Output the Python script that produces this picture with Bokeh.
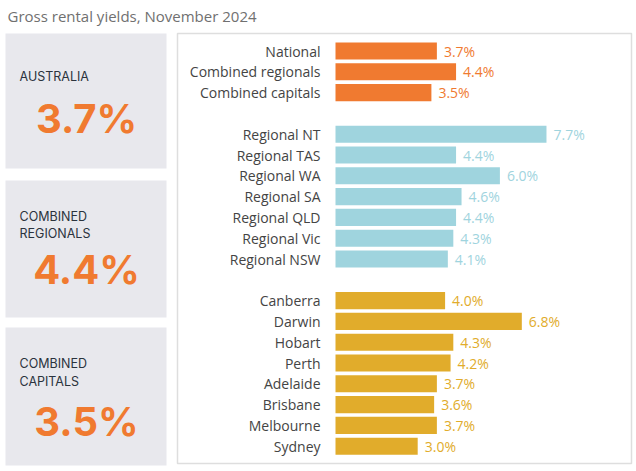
from bokeh.plotting import figure
from bokeh.models import Range1d
from bokeh.core.properties import value
from bokeh.embed import file_html
from bokeh.resources import INLINE

# ---- data ----
title_text = "Gross rental yields, November 2024"
summary_labels = ["National", "Combined regionals", "Combined capitals"]
summary_values = [3.7, 4.4, 3.5]
regional_labels = ["Regional NT", "Regional TAS", "Regional WA", "Regional SA",
                   "Regional QLD", "Regional Vic", "Regional NSW"]
regional_values = [7.7, 4.4, 6.0, 4.6, 4.4, 4.3, 4.1]
capital_labels = ["Canberra", "Darwin", "Hobart", "Perth", "Adelaide",
                  "Brisbane", "Melbourne", "Sydney"]
capital_values = [4.0, 6.8, 4.3, 4.2, 3.7, 3.6, 3.7, 3.0]
card_titles = [["AUSTRALIA"], ["COMBINED", "REGIONALS"], ["COMBINED", "CAPITALS"]]

# ---- styles ----
ORANGE = "#f07a30"
BLUE = "#9fd4de"
GOLD = "#e1ac2b"
FONT = value("Open Sans")
CARD_FONT = value("Inter")

W, H = 636, 471
px_per_unit = 27.4
x0_px = 335
row0_px = 50.5
row_px = 20.8

x_start = -x0_px / px_per_unit
p = figure(width=W, height=H,
           x_range=Range1d(x_start, x_start + W / px_per_unit),
           y_range=Range1d((H - row0_px) / row_px, -row0_px / row_px),
           output_backend="svg", toolbar_location=None, min_border=0,
           background_fill_color="white", border_fill_color="white")
p.axis.visible = False
p.grid.visible = False
p.outline_line_color = None
p.extra_x_ranges = {"px": Range1d(0, W)}
p.extra_y_ranges = {"px": Range1d(H, 0)}
PX = dict(x_range_name="px", y_range_name="px")

# title
p.text(x=[7], y=[15], text=[title_text], text_font=FONT, text_font_size="15px",
       text_color="#707070", text_baseline="middle", **PX)

# cards
card_tops = [33, 180, 327]
card_bottoms = [168, 317, 465]
p.quad(left=[5] * 3, right=[166] * 3, top=card_tops, bottom=card_bottoms,
       fill_color="#e8e8ed", line_color=None, **PX)
card_label_y = [[76], [216, 233], [363, 381]]
card_value_y = [118, 269, 421]
for lines, ys, val, vy in zip(card_titles, card_label_y, summary_values, card_value_y):
    p.text(x=[19] * len(lines), y=ys, text=lines, text_font=CARD_FONT,
           text_font_size="12.5px", text_color="#2b333d", text_baseline="middle", **PX)
    p.text(x=[86], y=[vy], text=[f"{val:.1f}%"], text_font=CARD_FONT,
           text_font_size="40px", text_font_style="bold", text_color=ORANGE,
           text_align="center", text_baseline="middle", **PX)

# panel border
p.quad(left=[177], right=[631], top=[33], bottom=[463], fill_color=None,
       line_color="#dedede", line_width=1.5, **PX)

# bars
groups = [(summary_labels, summary_values, ORANGE),
          (regional_labels, regional_values, BLUE),
          (capital_labels, capital_values, GOLD)]
row = 0
for labels, vals, color in groups:
    rows = list(range(row, row + len(vals)))
    p.hbar(y=rows, left=0, right=vals, height=0.82, fill_color=color, line_color=None)
    p.text(x=[0] * len(vals), y=rows, text=labels, x_offset=-15, text_align="right",
           text_baseline="middle", text_font=FONT, text_font_size="14px",
           text_color="#444444")
    p.text(x=vals, y=rows, text=[f"{v:.1f}%" for v in vals], x_offset=7,
           text_baseline="middle", text_font=FONT, text_font_size="14px",
           text_color=color)
    row += len(vals) + 1

open("out.html", "w").write(file_html(p, INLINE))
